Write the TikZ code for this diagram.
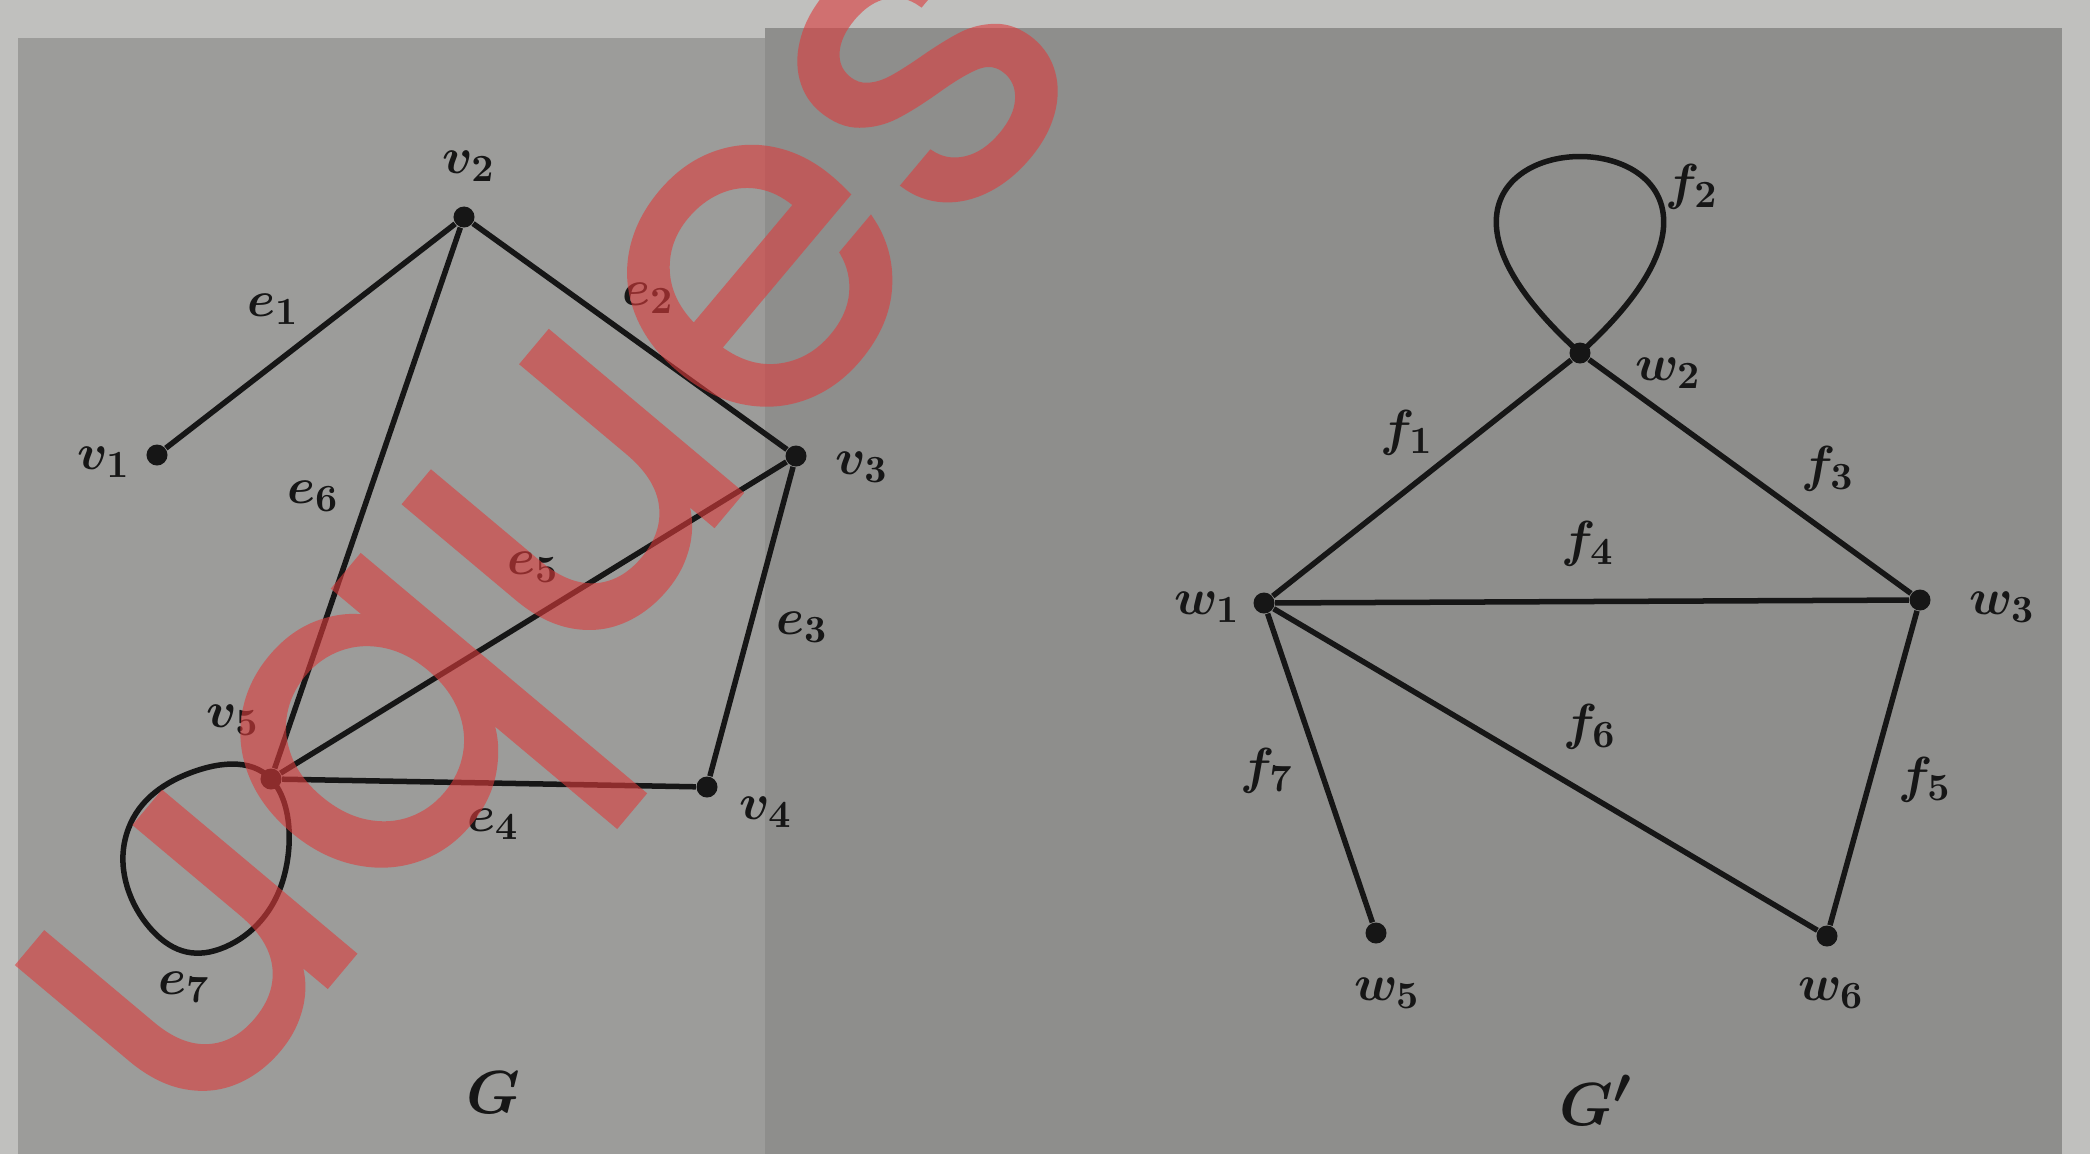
\documentclass[tikz,border=0pt]{standalone}
\usepackage{fontspec}
\newfontfamily\wmfont{Poppins}[FakeBold=1.0]
\definecolor{bgout}{RGB}{192,192,190}
\definecolor{bgleft}{RGB}{156,156,154}
\definecolor{bgright}{RGB}{142,142,140}
\definecolor{wmred}{RGB}{220,60,60}
\definecolor{ink}{RGB}{22,22,22}
\begin{document}
\begin{tikzpicture}[x=0.01cm,y=-0.01cm,
  dot/.style={circle,fill=ink,inner sep=0pt,minimum size=2.1mm},
  gline/.style={draw=ink,line width=0.55mm},
  lab/.style={text=ink,inner sep=0pt,font=\fontsize{15}{17}\selectfont\boldmath},
  glab/.style={text=ink,inner sep=0pt,font=\fontsize{19}{21}\selectfont\boldmath},
  wm/.style={text=wmred,inner sep=0pt,rotate=50,
    font=\wmfont\fontsize{130}{130}\selectfont}]
\useasboundingbox (0,0) rectangle (2090,1154);
% background
\fill[bgout] (0,0) rectangle (2090,1154);
\fill[bgleft] (18,38) rectangle (765,1154);
\fill[bgright] (765,28) rectangle (2062,1154);

% ---------- graph G ----------
\node[dot] (v1) at (157,455) {};
\node[dot] (v2) at (464,217) {};
\node[dot] (v3) at (796,456) {};
\node[dot] (v4) at (707,787) {};
\node[dot] (v5) at (271,779) {};

\draw[gline] (v1) -- (v2);
\draw[gline] (v2) -- (v3);
\draw[gline] (v3) -- (v4);
\draw[gline] (v5) -- (v4);
\draw[gline] (v5) -- (v3);
\draw[gline] (v2) -- (v5);
\draw[gline] plot[smooth cycle,tension=0.75] coordinates
  {(v5.center) (185,775) (125,840) (150,928) (220,949) (283,880)};

\node[lab] (lv1) at (104,462) {$v_1$};
\node[lab] (lv2) at (469,166) {$v_2$};
\node[lab] (lv3) at (862,467) {$v_3$};
\node[lab] (lv4) at (766,812) {$v_4$};
\node[lab] (lv5) at (233,720) {$v_5$};
\node[lab] (le1) at (273,309) {$e_1$};
\node[lab] (le2) at (648,298) {$e_2$};
\node[lab] (le3) at (802,627) {$e_3$};
\node[lab] (le4) at (493,824) {$e_4$};
\node[lab] (le5) at (533,567) {$e_5$};
\node[lab] (le6) at (313,496) {$e_6$};
\node[lab] (le7) at (184,987) {$e_7$};
\node[glab] (lG) at (493,1093) {$G$};

% ---------- graph G' ----------
\node[dot] (w1) at (1264,603) {};
\node[dot] (w2) at (1580,353) {};
\node[dot] (w3) at (1920,600) {};
\node[dot] (w5) at (1376,933) {};
\node[dot] (w6) at (1827,936) {};

\draw[gline] (w1) -- (w2);
\draw[gline] (w2) -- (w3);
\draw[gline] (w1) -- (w3);
\draw[gline] (w3) -- (w6);
\draw[gline] (w1) -- (w6);
\draw[gline] (w1) -- (w5);
\draw[gline] (w2.center) .. controls +(-290,-262) and +(290,-262) .. (w2.center);

\node[lab] (lw1) at (1207,607) {$w_1$};
\node[lab] (lw2) at (1668,373) {$w_2$};
\node[lab] (lw3) at (2002,607) {$w_3$};
\node[lab] (lw5) at (1387,993) {$w_5$};
\node[lab] (lw6) at (1831,993) {$w_6$};
\node[lab] (lf1) at (1407,433) {$f_1$};
\node[lab] (lf2) at (1692,187) {$f_2$};
\node[lab] (lf3) at (1828,469) {$f_3$};
\node[lab] (lf4) at (1588,544) {$f_4$};
\node[lab] (lf5) at (1925,780) {$f_5$};
\node[lab] (lf6) at (1590,727) {$f_6$};
\node[lab] (lf7) at (1267,771) {$f_7$};
\node[glab] (lG2) at (1596,1100) {$G'$};

% ---------- watermark ----------
\begin{scope}[transparency group,opacity=0.6]
\node[wm] (wmark) at (592,565) {uques};
\end{scope}
\end{tikzpicture}
\end{document}
